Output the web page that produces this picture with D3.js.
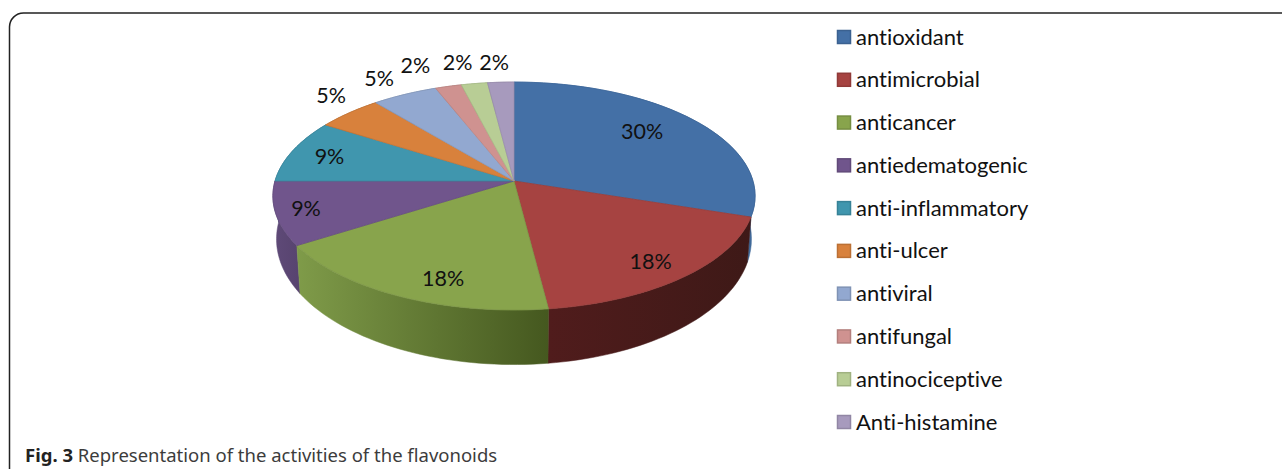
<!DOCTYPE html>
<html>
<head>
<meta charset="utf-8">
<script src="https://cdn.jsdelivr.net/npm/d3@7/dist/d3.min.js"></script>
<style>
  html, body { margin: 0; padding: 0; background: #fff; }
  svg { display: block; }
  text { font-family: Lato, "Open Sans", sans-serif; font-variant-ligatures: none; }
</style>
</head>
<body>
<svg id="chart" width="1282" height="469"></svg>
<script>
// Flavonoid activity shares
const activities = ["antioxidant", "antimicrobial", "anticancer", "antiedematogenic", "anti-inflammatory",
                    "anti-ulcer", "antiviral", "antifungal", "antinociceptive", "Anti-histamine"];
const shares = [30, 18, 18, 9, 9, 5, 5, 2, 2, 2];

// Face colours, then the left and right shades of each slice's outer wall
const faceColors = ["#4470a6", "#a64341", "#88a44c", "#70558c", "#4096ae", "#d8813c", "#92a8d0", "#cf9290", "#b8cd95", "#a79abd"];
const wallLeft  = ["#4a7bb2", "#501c1c", "#7f9b49", "#5f4a78", "#35788c", "#a8642c", "#7387a6", "#a87472", "#94a578", "#867b98"];
const wallRight = ["#3f6999", "#3e1917", "#45581f", "#584470", "#2f6c80", "#975a28", "#687a96", "#976866", "#859670", "#786e89"];

// Label placement: pixel nudges from the default anchor of each slice
const labelNudgeX = [-9, 13, 13, -31, -17, 3, -12, -25, -12, -5];
const labelNudgeY = [-3, 10, 14, 3, -2, -9, -6, -10, -10, -8];
const outsideFrom = 5;

const svg = d3.select("#chart");
const defs = svg.append("defs");

// Tilted disc: perspective projection of the unit circle on the page
const apex = { x: 514, y: 181 };
const persp = -0.132, spanX = 239, spanY = 112;
const rimCentreY = 195, baseCentreY = 238, baseStretchY = 1.1, baseShrinkX = 0.985;

function project(theta, r) {
  const x = r * Math.sin(theta), y = -r * Math.cos(theta), w = 1 + persp * y;
  return [apex.x + spanX * x / w, apex.y + spanY * y / w];
}
// Lower rim of the disc, seen from above: nearer points sit further down
function projectBase(theta) {
  const [X, Y] = project(theta, 1);
  return [apex.x + (X - apex.x) * baseShrinkX, baseCentreY + (Y - rimCentreY) * baseStretchY];
}

const slices = d3.pie().sort(null).value(d => d)(shares);
const line = d3.line();
const rimAngles = s => d3.range(0, 41).map(i => s.startAngle + (s.endAngle - s.startAngle) * i / 40);

// Outer walls, back to front; the faces drawn next cover the rear portion
const midY = s => -Math.cos((s.startAngle + s.endAngle) / 2);
const wallOrder = slices.slice().sort((a, b) => midY(a) - midY(b));
wallOrder.forEach(s => {
  const angles = rimAngles(s);
  const top = angles.map(a => project(a, 1));
  const base = angles.map(projectBase).reverse();
  const xs = top.map(p => p[0]);
  const id = "wall" + s.index;
  const g = defs.append("linearGradient").attr("id", id).attr("gradientUnits", "userSpaceOnUse")
    .attr("x1", d3.min(xs)).attr("x2", d3.max(xs)).attr("y1", 0).attr("y2", 0);
  g.append("stop").attr("offset", 0).attr("stop-color", wallLeft[s.index]);
  g.append("stop").attr("offset", 1).attr("stop-color", wallRight[s.index]);
  svg.append("path").attr("d", line(top.concat(base)) + "Z")
    .attr("fill", `url(#${id})`).attr("stroke", `url(#${id})`).attr("stroke-width", 0.5);
});

// Top faces
svg.append("g").selectAll("path").data(slices).join("path")
  .attr("d", s => line([[apex.x, apex.y]].concat(rimAngles(s).map(a => project(a, 1)))) + "Z")
  .attr("fill", s => faceColors[s.index])
  .attr("stroke", s => d3.color(faceColors[s.index]).darker(0.25))
  .attr("stroke-width", 0.8)
  .attr("stroke-linejoin", "round");

// Percent labels
svg.append("g").selectAll("text").data(slices).join("text")
  .each(function (s) {
    const mid = (s.startAngle + s.endAngle) / 2;
    const [X, Y] = project(mid, s.index >= outsideFrom ? 1.14 : 0.75);
    d3.select(this).attr("x", X + labelNudgeX[s.index]).attr("y", Y + labelNudgeY[s.index]);
  })
  .attr("text-anchor", "middle")
  .attr("dominant-baseline", "central")
  .attr("font-size", 21.5)
  .attr("fill", "#111")
  .text(s => s.value + "%");

// Legend
const legendY = d3.scalePoint().domain(activities).range([36, 421]);
const legend = svg.append("g").selectAll("g").data(activities).join("g")
  .attr("transform", d => `translate(837,${legendY(d)})`);
legend.append("rect")
  .attr("x", 0.5).attr("y", -5.5).attr("width", 13).attr("height", 13)
  .attr("fill", (d, i) => faceColors[i])
  .attr("stroke", (d, i) => d3.color(faceColors[i]).darker(0.4))
  .attr("stroke-width", 1.5);
legend.append("text")
  .attr("x", 19).attr("y", 0)
  .attr("dominant-baseline", "central")
  .attr("font-size", 22)
  .attr("fill", "#111")
  .text(d => d);

// Figure frame, open at the bottom and on the right
const frame = d3.path();
frame.moveTo(9.5, 469);
frame.lineTo(9.5, 27);
frame.arcTo(9.5, 13, 23.5, 13, 14);
frame.lineTo(1282, 13);
svg.append("path")
  .attr("d", frame.toString())
  .attr("fill", "none").attr("stroke", "#222").attr("stroke-width", 1.5);

// Caption
const caption = svg.append("text").attr("x", 25).attr("y", 462)
  .style("font-family", "'Noto Sans', sans-serif").attr("font-size", 18.5).attr("fill", "#3c3c3c");
caption.append("tspan").attr("font-weight", 700).attr("fill", "#222").text("Fig. 3");
caption.append("tspan").text(" Representation of the activities of the flavonoids");
</script>
</body>
</html>
